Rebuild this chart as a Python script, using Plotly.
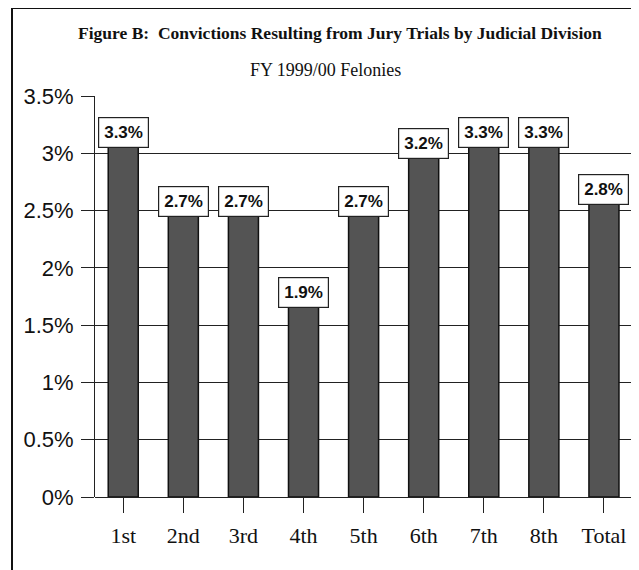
import plotly.graph_objects as go

# Data
divisions = ["1st", "2nd", "3rd", "4th", "5th", "6th", "7th", "8th", "Total"]
conviction_rate = [3.3, 2.7, 2.7, 1.9, 2.7, 3.2, 3.3, 3.3, 2.8]
y_tick_vals = [0, 0.5, 1, 1.5, 2, 2.5, 3, 3.5]
y_tick_text = ["0%", "0.5%", "1%", "1.5%", "2%", "2.5%", "3%", "3.5%"]

# page body has an 8px margin, so the figure is drawn 8px in from the corner
OFF = 8
W, H = 639 - OFF, 570 - OFF
ML, MR, MT, MB = 95 - OFF, 5, 96 - OFF, 73
PW = W - ML - MR
PH = H - MT - MB


def px_x(p):
    # page pixel -> paper coordinate
    return (p - OFF - ML) / PW


def px_y(p):
    return (H - MB - (p - OFF)) / PH


fig = go.Figure()
fig.add_trace(go.Bar(
    x=divisions,
    y=conviction_rate,
    marker=dict(color="#545454", line=dict(color="#111111", width=1.5)),
    width=0.5,
    hoverinfo="x+y",
))

# value labels in boxes
for d, v in zip(divisions, conviction_rate):
    fig.add_annotation(
        x=d, y=v, text="<b>%.1f%%</b>" % v, showarrow=False,
        yanchor="top", xanchor="center", yshift=2,
        font=dict(family="Arial, Liberation Sans", size=17, color="#111"),
        bgcolor="white", bordercolor="#222", borderwidth=1.2, borderpad=5,
    )

# title
fig.add_annotation(
    x=px_x(340), y=px_y(33), xref="paper", yref="paper", showarrow=False,
    xanchor="center", yanchor="middle",
    text="<b>Figure B:  Convictions Resulting from Jury Trials by Judicial Division</b>",
    font=dict(family="Liberation Serif, Times New Roman", size=17.5, color="#111"),
)
fig.add_annotation(
    x=px_x(325), y=px_y(70), xref="paper", yref="paper", showarrow=False,
    xanchor="center", yanchor="middle",
    text="FY 1999/00 Felonies",
    font=dict(family="Liberation Serif, Times New Roman", size=18, color="#111"),
)

# outer frame
fig.add_shape(type="line", xref="paper", yref="paper",
              x0=px_x(12), x1=px_x(12), y0=px_y(8), y1=px_y(570),
              line=dict(color="#111", width=2))
fig.add_shape(type="line", xref="paper", yref="paper",
              x0=px_x(12), x1=px_x(639), y0=px_y(8), y1=px_y(8),
              line=dict(color="#111", width=2))
fig.add_shape(type="line", xref="paper", yref="paper",
              x0=px_x(637), x1=px_x(637), y0=px_y(90), y1=px_y(300),
              line=dict(color="#888", width=1))

fig.update_layout(
    width=W, height=H,
    margin=dict(l=ML, r=MR, t=MT, b=MB, autoexpand=False),
    paper_bgcolor="white", plot_bgcolor="white",
    showlegend=False,
    bargap=0.5,
    xaxis=dict(
        range=[-0.47, 8.5], automargin=False,
        showgrid=False, showline=False,
        ticks="outside", ticklen=15, tickcolor="#222", tickwidth=1,
        ticklabelstandoff=4,
        tickfont=dict(family="Liberation Serif, Times New Roman", size=22, color="#111"),
    ),
    yaxis=dict(
        range=[0, 3.5], automargin=False,
        tickvals=y_tick_vals, ticktext=y_tick_text,
        showgrid=True, gridcolor="#222", gridwidth=1,
        showline=True, linecolor="#222", linewidth=1,
        ticks="outside", ticklen=13, tickcolor="#222",
        ticklabelstandoff=3,
        tickfont=dict(family="Arial, Liberation Sans", size=22, color="#111"),
        zeroline=True, zerolinecolor="#222", zerolinewidth=1,
    ),
)

fig.write_html("out.html")
